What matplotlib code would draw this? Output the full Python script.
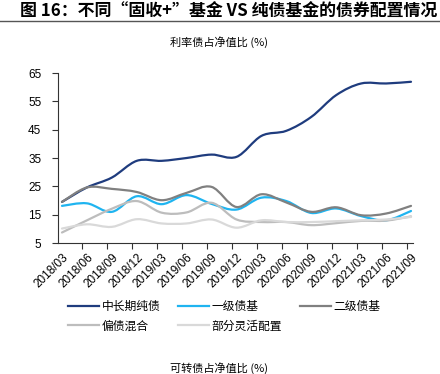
import matplotlib
matplotlib.use("Agg")
import matplotlib.pyplot as plt
import numpy as np
from matplotlib.path import Path
from matplotlib.patches import PathPatch
from matplotlib.lines import Line2D

plt.rcParams['font.family'] = ['Liberation Sans', 'Noto Sans CJK SC', 'DejaVu Sans']

dates = ["2018/03", "2018/06", "2018/09", "2018/12", "2019/03", "2019/06", "2019/09",
         "2019/12", "2020/03", "2020/06", "2020/09", "2020/12", "2021/03", "2021/06", "2021/09"]

mid_long_pure = [19.5, 24.6, 28.1, 34.0, 34.0, 35.0, 36.2, 35.4, 42.8, 44.6, 49.5, 57.2, 61.3, 61.3, 61.9]
primary_bond = [18.1, 19.0, 16.0, 21.5, 18.7, 21.9, 18.8, 16.8, 21.0, 19.8, 15.6, 17.2, 14.5, 13.0, 16.3]
secondary_bond = [19.5, 24.6, 24.1, 23.0, 20.1, 22.7, 24.8, 17.7, 22.2, 19.3, 16.0, 17.6, 14.8, 15.4, 18.1]
bond_hybrid = [8.7, 13.0, 17.1, 19.8, 15.7, 15.8, 19.2, 13.3, 12.4, 12.4, 11.3, 12.0, 12.8, 12.9, 14.4]
flexible = [10.1, 11.6, 10.7, 13.4, 11.9, 11.9, 13.3, 10.4, 13.0, 12.4, 12.4, 12.7, 13.0, 13.3, 14.2]

names = ["中长期纯债", "一级债基", "二级债基", "偏债混合", "部分灵活配置"]
colors = ["#1F3C7E", "#1FB4F0", "#808080", "#BDBDBD", "#D9D9D9"]
series = [mid_long_pure, primary_bond, secondary_bond, bond_hybrid, flexible]


def smooth_path(xs, ys, t=1.0 / 6):
    # bezier curve through the points, like an office "smoothed line"
    xs = np.asarray(xs, float)
    ys = np.asarray(ys, float)
    n = len(xs)
    verts = [(xs[0], ys[0])]
    codes = [Path.MOVETO]
    for i in range(n - 1):
        p0 = i - 1 if i > 0 else i
        p3 = i + 2 if i + 2 < n else i + 1
        c1 = (xs[i] + (xs[i + 1] - xs[p0]) * t, ys[i] + (ys[i + 1] - ys[p0]) * t)
        c2 = (xs[i + 1] - (xs[p3] - xs[i]) * t, ys[i + 1] - (ys[p3] - ys[i]) * t)
        verts += [c1, c2, (xs[i + 1], ys[i + 1])]
        codes += [Path.CURVE4] * 3
    return Path(verts, codes)


fig = plt.figure(figsize=(4.4, 3.74), dpi=100)
ax = fig.add_axes([58 / 440, 1 - 243 / 374, 355 / 440, 170 / 374])

x = np.arange(len(dates))
for vals, c in zip(series, colors):
    ax.add_patch(PathPatch(smooth_path(x, vals), fill=False, edgecolor=c, lw=1.6,
                           capstyle='round', joinstyle='round'))

ax.set_xlim(-0.16, 14.08)
ax.set_ylim(5, 65)
ax.set_yticks(np.arange(5, 66, 10))
ax.set_xticks(x)
ax.set_xticklabels(dates, rotation=45, ha='right', rotation_mode='anchor', fontsize=8.5)
ax.set_xticks(x[1:] - 0.18, minor=True)
ax.tick_params(axis='x', which='major', length=0, pad=6)
ax.tick_params(axis='x', which='minor', length=4, width=0.8, color='#333333')
ax.tick_params(axis='y', length=4, width=0.8, color='#333333', labelsize=8.5, pad=8)
for s in ['top', 'right']:
    ax.spines[s].set_visible(False)
for s in ['left', 'bottom']:
    ax.spines[s].set_linewidth(0.8)
    ax.spines[s].set_color('#333333')

fig.text(20 / 440, 1 - 12 / 374, "图 16：不同“固收+”基金 VS 纯债基金的债券配置情况",
         fontsize=12.2, fontweight='bold', va='center', ha='left',
         family=['Noto Sans CJK SC', 'DejaVu Sans'])
fig.add_artist(Line2D([0, 1], [1 - 20.5 / 374, 1 - 20.5 / 374], color='#555555', lw=1.0))

fig.text(219 / 440, 1 - 42 / 374, "利率债占净值比 (%)", fontsize=8, ha='center', va='center',
         family=['Noto Sans CJK SC', 'DejaVu Sans'])
fig.text(219 / 440, 1 - 368 / 374, "可转债占净值比 (%)", fontsize=8, ha='center', va='center',
         family=['Noto Sans CJK SC', 'DejaVu Sans'])

handles = [Line2D([], [], color=c, lw=1.6) for c in colors]
order = [0, 3, 1, 4, 2]
leg = fig.legend([handles[i] for i in order], [names[i] for i in order], ncol=3,
                 loc='upper left', bbox_to_anchor=(68 / 440, 1 - 300 / 374),
                 frameon=False, borderaxespad=0, borderpad=0, handlelength=2.6,
                 handletextpad=0.25, columnspacing=1.5, labelspacing=0.55,
                 prop={'family': ['Noto Sans CJK SC', 'DejaVu Sans'], 'size': 8.5})

fig.savefig("out.png", dpi=100)
